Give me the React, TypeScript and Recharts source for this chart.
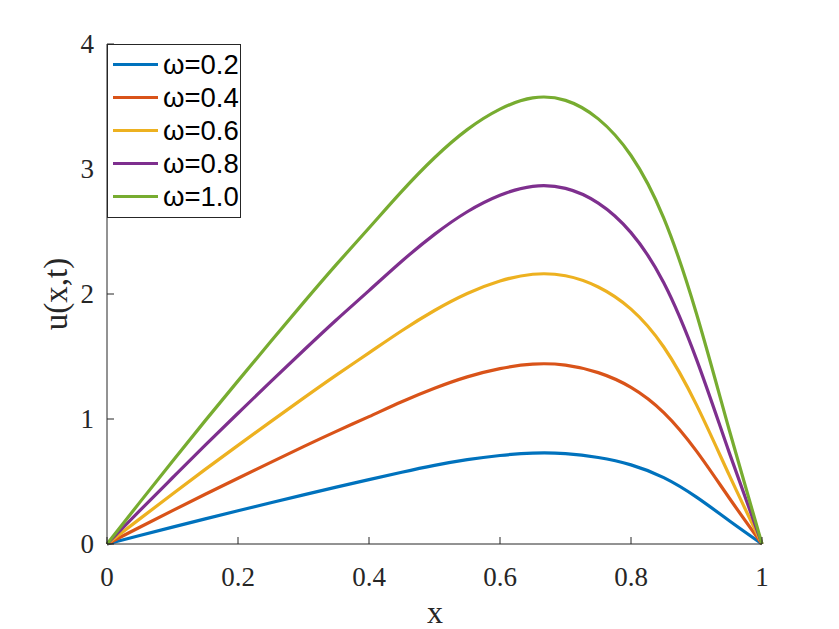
import { LineChart, Line, XAxis, YAxis, Legend } from "recharts";

// x positions sampled along the curves
const xs = [0, 0.05, 0.1, 0.15, 0.2, 0.25, 0.3, 0.35, 0.4, 0.45, 0.5, 0.55, 0.6, 0.65, 0.7, 0.75, 0.8, 0.85, 0.9, 0.95, 1];

// u(x,t) values, one list per omega
const w02 = [0, 0.068, 0.135, 0.201, 0.266, 0.33, 0.393, 0.455, 0.515, 0.574, 0.629, 0.675, 0.708, 0.727, 0.723, 0.692, 0.633, 0.531, 0.375, 0.186, 0];
const w04 = [0, 0.134, 0.267, 0.398, 0.526, 0.653, 0.779, 0.901, 1.019, 1.138, 1.246, 1.337, 1.403, 1.439, 1.431, 1.371, 1.253, 1.051, 0.743, 0.368, 0];
const w06 = [0, 0.201, 0.4, 0.597, 0.789, 0.979, 1.167, 1.351, 1.529, 1.706, 1.868, 2.004, 2.104, 2.158, 2.146, 2.056, 1.879, 1.576, 1.113, 0.551, 0];
const w08 = [0, 0.267, 0.53, 0.791, 1.046, 1.299, 1.548, 1.792, 2.027, 2.262, 2.477, 2.658, 2.79, 2.861, 2.845, 2.727, 2.491, 2.09, 1.477, 0.731, 0];
const w10 = [0, 0.333, 0.662, 0.987, 1.305, 1.62, 1.931, 2.235, 2.528, 2.821, 3.09, 3.315, 3.479, 3.569, 3.549, 3.401, 3.108, 2.607, 1.842, 0.912, 0];

const xTicks = [0, 0.2, 0.4, 0.6, 0.8, 1];
const yTicks = [0, 1, 2, 3, 4];

const series = [
  { key: "w02", name: "ω=0.2", color: "#0072BD" },
  { key: "w04", name: "ω=0.4", color: "#D95319" },
  { key: "w06", name: "ω=0.6", color: "#EDB120" },
  { key: "w08", name: "ω=0.8", color: "#7E2F8E" },
  { key: "w10", name: "ω=1.0", color: "#77AC30" },
];

const data = xs.map((x, i) => ({
  x,
  w02: w02[i],
  w04: w04[i],
  w06: w06[i],
  w08: w08[i],
  w10: w10[i],
}));

const AXIS = "#262626";
const SERIF = "'Liberation Serif', 'Times New Roman', serif";
const TICK_LEN = 7;

const BottomTick = (props: any) => {
  const { x, y, payload } = props;
  return (
    <g>
      <line x1={x} x2={x} y1={y} y2={y - TICK_LEN} stroke={AXIS} />
      <text x={x} y={y + 42} textAnchor="middle" fontFamily={SERIF} fontSize={27} fill={AXIS}>
        {payload.value}
      </text>
    </g>
  );
};

const TopTick = (props: any) => {
  const { x, y } = props;
  return <line x1={x} x2={x} y1={y} y2={y + TICK_LEN} stroke={AXIS} />;
};

const LeftTick = (props: any) => {
  const { x, y, payload } = props;
  return (
    <g>
      <line x1={x} x2={x + TICK_LEN} y1={y} y2={y} stroke={AXIS} />
      <text x={x - 13} y={y + 9} textAnchor="end" fontFamily={SERIF} fontSize={27} fill={AXIS}>
        {payload.value}
      </text>
    </g>
  );
};

const RightTick = (props: any) => {
  const { x, y } = props;
  return <line x1={x} x2={x - TICK_LEN} y1={y} y2={y} stroke={AXIS} />;
};

const XTitle = () => (
  <text x={435} y={623} textAnchor="middle" fontFamily={SERIF} fontSize={32} fill={AXIS}>
    x
  </text>
);

const YTitle = () => (
  <text
    x={0}
    y={0}
    transform="translate(67, 294) rotate(-90)"
    textAnchor="middle"
    fontFamily={SERIF}
    fontSize={33}
    fill={AXIS}
  >
    u(x,t)
  </text>
);

const LegendBox = () => (
  <div
    style={{
      border: `1px solid ${AXIS}`,
      background: "#fff",
      width: 132,
      padding: "3px 0 4px 0",
      fontFamily: "'Liberation Sans', Arial, sans-serif",
      fontSize: 27.5,
      color: "#000",
    }}
  >
    {series.map((s) => (
      <div key={s.key} style={{ display: "flex", alignItems: "center", height: 33, whiteSpace: "nowrap" }}>
        <div style={{ width: 45, height: 3.3, background: s.color, marginLeft: 5, marginRight: 5 }} />
        <span>{s.name}</span>
      </div>
    ))}
  </div>
);

export default function App() {
  return (
    <div style={{ position: "absolute", left: 0, top: 0, background: "#fff" }}>
      <LineChart width={839} height={629} data={data} margin={{ top: 44, right: 77, bottom: 25, left: 47 }}>
        <XAxis
          xAxisId="bottom"
          dataKey="x"
          type="number"
          domain={[0, 1]}
          ticks={xTicks}
          tickSize={0}
          tickMargin={0}
          tickLine={false}
          tick={<BottomTick />}
          height={60}
          axisLine={{ stroke: AXIS }}
          label={<XTitle />}
          interval={0}
        />
        <XAxis
          xAxisId="top"
          orientation="top"
          dataKey="x"
          type="number"
          domain={[0, 1]}
          ticks={xTicks}
          tickSize={0}
          tickMargin={0}
          tickLine={false}
          tick={<TopTick />}
          height={0}
          axisLine={{ stroke: AXIS }}
          interval={0}
        />
        <YAxis
          yAxisId="left"
          type="number"
          domain={[0, 4]}
          ticks={yTicks}
          tickSize={0}
          tickMargin={0}
          tickLine={false}
          tick={<LeftTick />}
          width={60}
          axisLine={{ stroke: AXIS }}
          label={<YTitle />}
          interval={0}
        />
        <YAxis
          yAxisId="right"
          orientation="right"
          type="number"
          domain={[0, 4]}
          ticks={yTicks}
          tickSize={0}
          tickMargin={0}
          tickLine={false}
          tick={<RightTick />}
          width={0}
          axisLine={{ stroke: AXIS }}
          interval={0}
        />
        {series.map((s) => (
          <Line
            key={s.key}
            xAxisId="bottom"
            yAxisId="left"
            type="natural"
            dataKey={s.key}
            name={s.name}
            stroke={s.color}
            strokeWidth={3.2}
            dot={false}
            isAnimationActive={false}
          />
        ))}
        <Legend
          layout="vertical"
          align="center"
          verticalAlign="middle"
          content={<LegendBox />}
          wrapperStyle={{ left: 107, top: 44, width: "auto" }}
        />
      </LineChart>
    </div>
  );
}
